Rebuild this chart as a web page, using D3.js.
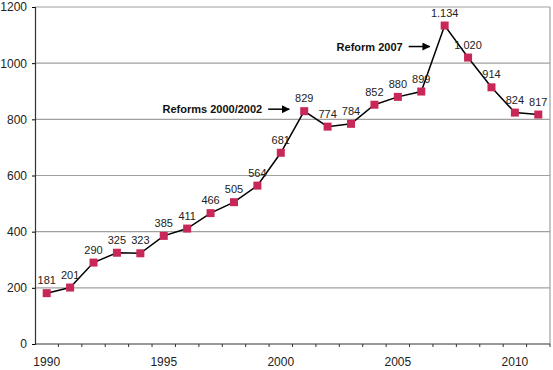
<!DOCTYPE html>
<meta charset="utf-8">
<script src="https://d3js.org/d3.v7.min.js"></script>
<style>
  body { margin: 0; background: #fff; }
  text { font-family: "Liberation Sans", Arial, sans-serif; }
</style>
<div id="chart"></div>
<script>
    const years = d3.range(1990, 2012);
    const values = [181, 201, 290, 325, 323, 385, 411, 466, 505, 564, 681, 829, 774, 784, 852, 880, 899, 1134, 1020, 914, 824, 817];
    const valueLabels = ["181", "201", "290", "325", "323", "385", "411", "466", "505", "564", "681", "829", "774", "784", "852", "880", "899", "1.134", "1.020", "914", "824", "817"];
    const yTicks = [0, 200, 400, 600, 800, 1000, 1200];
    const xTickLabels = [1990, 1995, 2000, 2005, 2010];
    const notes = [
        {text: "Reforms 2000/2002", year: 2001, value: 829},
        {text: "Reform 2007", year: 2007, value: 1134}
    ];

    const margin = {top: 7, bottom: 26, left: 35, right: 3},
        width = 553 - margin.left - margin.right,
        height = 370 - margin.top - margin.bottom;

    const svg = d3.select("#chart")
        .append("svg")
            .attr("width", 553)
            .attr("height", 370)
        .append("g")
            .attr("transform", `translate(${margin.left},${margin.top})`);

    const x = d3.scaleBand()
        .domain(years)
        .range([0, width]);

    const y = d3.scaleLinear()
        .domain([0, 1200])
        .range([height, 0]);

    // gridlines
    svg.append("g")
        .selectAll("line")
        .data(yTicks.slice(1))
        .join("line")
            .attr("x1", 0)
            .attr("x2", width)
            .attr("y1", d => y(d))
            .attr("y2", d => y(d))
            .attr("stroke", "#a0a0a0")
            .attr("stroke-width", 1.2);

    // right border
    svg.append("line")
        .attr("x1", width).attr("x2", width)
        .attr("y1", 0).attr("y2", height)
        .attr("stroke", "#a0a0a0")
        .attr("stroke-width", 1.2);

    // y axis
    const yAxis = svg.append("g")
        .call(d3.axisLeft(y).tickValues(yTicks).tickFormat(d => d).tickSize(3).tickPadding(5));
    yAxis.select(".domain").attr("stroke", "#333").attr("stroke-width", 1.2);
    yAxis.selectAll("text").attr("font-size", 12).attr("fill", "#222")
        .attr("font-family", "Liberation Sans, Arial, sans-serif");

    // x axis: ticks between categories
    const xAxisG = svg.append("g")
        .attr("transform", `translate(0,${height})`);
    xAxisG.append("line")
        .attr("x1", 0).attr("x2", width)
        .attr("stroke", "#333").attr("stroke-width", 1.2);
    xAxisG.selectAll("line.tick")
        .data(years)
        .join("line")
            .attr("class", "tick")
            .attr("x1", d => x(d) + x.bandwidth())
            .attr("x2", d => x(d) + x.bandwidth())
            .attr("y1", 0).attr("y2", 3)
            .attr("stroke", "#333");
    xAxisG.selectAll("text")
        .data(xTickLabels)
        .join("text")
            .attr("x", d => x(d) + x.bandwidth() / 2)
            .attr("y", 22)
            .attr("text-anchor", "middle")
            .attr("font-size", 12)
            .attr("fill", "#222")
            .text(d => d);

    const data = years.map((yr, i) => ({year: yr, value: values[i], label: valueLabels[i]}));
    const cx = d => x(d.year) + x.bandwidth() / 2;

    svg.append("path")
        .datum(data)
        .attr("fill", "none")
        .attr("stroke", "#000")
        .attr("stroke-width", 1.5)
        .attr("d", d3.line().x(cx).y(d => y(d.value)));

    svg.selectAll("rect.pt")
        .data(data)
        .join("rect")
            .attr("class", "pt")
            .attr("x", d => cx(d) - 4)
            .attr("y", d => y(d.value) - 4)
            .attr("width", 8)
            .attr("height", 8)
            .attr("fill", "#c82858");

    svg.selectAll("text.lbl")
        .data(data)
        .join("text")
            .attr("class", "lbl")
            .attr("x", cx)
            .attr("y", d => y(d.value) - 9)
            .attr("text-anchor", "middle")
            .attr("font-size", 11)
            .attr("fill", "#222")
            .text(d => d.label);

    // annotations
    const defs = svg.append("defs");
    defs.append("marker")
        .attr("id", "arrow")
        .attr("viewBox", "0 0 10 10")
        .attr("refX", 9).attr("refY", 5)
        .attr("markerWidth", 8).attr("markerHeight", 8)
        .attr("markerUnits", "userSpaceOnUse")
        .attr("orient", "auto")
        .append("path")
            .attr("d", "M0,0L10,5L0,10z")
            .attr("fill", "#000");

    // arrow row sits level with the point for 2001, and ~21px below the 2007 peak
    const noteY = [y(notes[0].value) - 2, y(notes[1].value) + 21];
    notes.forEach((n, i) => {
        const ax = x(n.year) + x.bandwidth() / 2;
        const ay = noteY[i];
        const end = ax - 15;
        const start = end - 21;
        svg.append("line")
            .attr("x1", start).attr("x2", end)
            .attr("y1", ay).attr("y2", ay)
            .attr("stroke", "#000").attr("stroke-width", 1.5)
            .attr("marker-end", "url(#arrow)");
        svg.append("text")
            .attr("x", start - 6)
            .attr("y", ay + 4)
            .attr("text-anchor", "end")
            .attr("font-size", 11)
            .attr("font-weight", "bold")
            .attr("fill", "#111")
            .text(n.text);
    });
</script>
